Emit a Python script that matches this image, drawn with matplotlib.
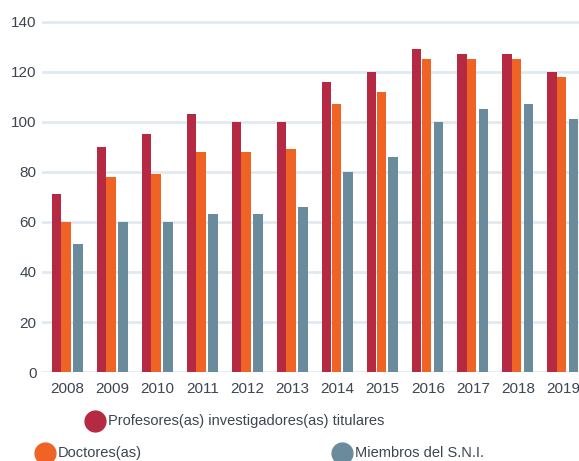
import matplotlib
matplotlib.use('Agg')
import matplotlib.pyplot as plt
from matplotlib.lines import Line2D
import numpy as np

plt.rcParams['font.family'] = ['Liberation Sans', 'DejaVu Sans']

years = ['2008', '2009', '2010', '2011', '2012', '2013', '2014', '2015', '2016', '2017', '2018', '2019']
profesores = [71, 90, 95, 103, 100, 100, 116, 120, 129, 127, 127, 120]
doctores = [60, 78, 79, 88, 88, 89, 107, 112, 125, 125, 125, 118]
sni = [51, 60, 60, 63, 63, 66, 80, 86, 100, 105, 107, 101]
labels = ['Profesores(as) investigadores(as) titulares', 'Doctores(as)', 'Miembros del S.N.I.']

c_red = '#b52a42'
c_orange = '#ef6425'
c_gray = '#6a8b9b'
txt = '#3c4552'

fig = plt.figure(figsize=(5.79, 4.61), dpi=100)
ax = fig.add_axes([0.0725, 0.193, 0.9275, 0.765])

x = np.arange(len(years))
w = 0.21
ax.bar(x - 0.244, profesores, w, color=c_red, zorder=3)
ax.bar(x - 0.033, doctores, w, color=c_orange, zorder=3)
ax.bar(x + 0.233, sni, w, color=c_gray, zorder=3)

ax.set_xlim(-0.57, 11.36)
ax.set_ylim(0, 141)
ax.set_yticks(range(0, 141, 20))
ax.set_xticks(x)
ax.set_xticklabels(years)
ax.grid(axis='y', color='#e1e9f0', linewidth=2)
ax.set_axisbelow(True)
for s in ax.spines.values():
    s.set_visible(False)
ax.tick_params(length=0, labelsize=11, colors=txt)
ax.tick_params(axis='y', pad=4)
ax.tick_params(axis='x', pad=7)

# legend drawn by hand, as in the source
def legend_item(xp, yp, color, text):
    fig.add_artist(Line2D([xp / 579], [1 - yp / 461], marker='o', markersize=15,
                          color=color, linestyle='none', transform=fig.transFigure))
    fig.text((xp + 13) / 579, 1 - yp / 461, text, color=txt, fontsize=10.5,
             va='center', ha='left')

legend_item(95, 421, c_red, labels[0])
legend_item(45, 453, c_orange, labels[1])
legend_item(342, 453, c_gray, labels[2])

fig.savefig('out.png', dpi=100)
